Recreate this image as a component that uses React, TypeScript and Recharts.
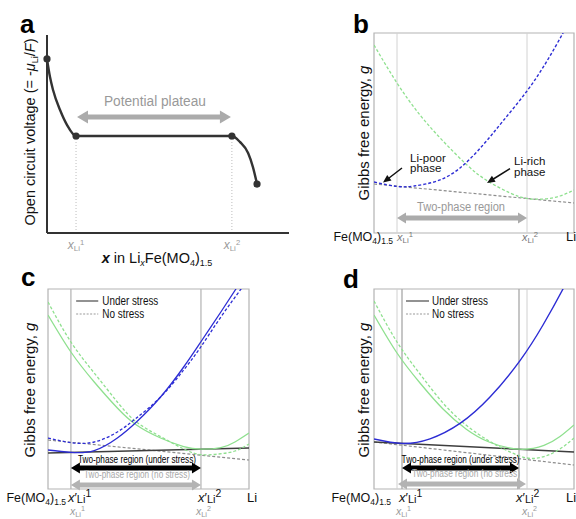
import React from 'react';
import { LineChart, Line, XAxis, YAxis, ReferenceLine, ReferenceArea, ReferenceDot } from 'recharts';

const FONT = '"Liberation Sans", Arial, Helvetica, sans-serif';

type P = { x: number; y: number; dot?: boolean };

// ---------------- panel a : open circuit voltage ----------------
const A_OCV: P[] = [
  { x: 0, y: 0.879, dot: true },
  { x: 0.012, y: 0.79 },
  { x: 0.025, y: 0.722 },
  { x: 0.054, y: 0.621 },
  { x: 0.083, y: 0.545 },
  { x: 0.12, y: 0.49, dot: true },
  { x: 0.764, y: 0.49, dot: true },
  { x: 0.797, y: 0.46 },
  { x: 0.831, y: 0.404 },
  { x: 0.851, y: 0.333 },
  { x: 0.868, y: 0.247, dot: true },
];
const A_TICKS = [0.12, 0.764];

// ---------------- panel b : free energy, single case ----------------
const B_TICKS = [0, 0.115, 0.765, 1];
const B_LI_POOR: P[] = [
  { x: 0, y: 0.255 }, { x: 0.115, y: 0.233 }, { x: 0.2, y: 0.235 }, { x: 0.315, y: 0.26 },
  { x: 0.43, y: 0.325 }, { x: 0.545, y: 0.44 }, { x: 0.645, y: 0.56 }, { x: 0.765, y: 0.71 },
  { x: 0.865, y: 0.86 }, { x: 0.945, y: 1.0 }, { x: 1.0, y: 1.1 },
];
const B_LI_RICH: P[] = [
  { x: 0, y: 0.94 }, { x: 0.115, y: 0.75 }, { x: 0.23, y: 0.59 }, { x: 0.345, y: 0.46 },
  { x: 0.465, y: 0.34 }, { x: 0.565, y: 0.262 }, { x: 0.68, y: 0.2 }, { x: 0.765, y: 0.173 },
  { x: 0.85, y: 0.17 }, { x: 0.93, y: 0.185 }, { x: 1.0, y: 0.215 },
];
const B_TANGENT: P[] = [{ x: 0, y: 0.245 }, { x: 1, y: 0.15 }];

// ---------------- panel c : stress shifts both boundaries ----------------
const C_TICKS = [0, 0.114, 0.761, 1];
const C_POOR_STRESS: P[] = [
  { x: 0, y: 0.195 }, { x: 0.114, y: 0.183 }, { x: 0.23, y: 0.192 }, { x: 0.345, y: 0.255 },
  { x: 0.44, y: 0.335 }, { x: 0.56, y: 0.46 }, { x: 0.675, y: 0.61 }, { x: 0.76, y: 0.735 },
  { x: 0.86, y: 0.885 }, { x: 0.935, y: 1.0 }, { x: 1.0, y: 1.1 },
];
const C_POOR_FREE: P[] = [
  { x: 0, y: 0.255 }, { x: 0.114, y: 0.232 }, { x: 0.23, y: 0.235 }, { x: 0.345, y: 0.285 },
  { x: 0.44, y: 0.355 }, { x: 0.56, y: 0.46 }, { x: 0.675, y: 0.595 }, { x: 0.76, y: 0.71 },
  { x: 0.86, y: 0.86 }, { x: 0.96, y: 1.0 }, { x: 1.0, y: 1.06 },
];
const C_RICH_STRESS: P[] = [
  { x: 0, y: 0.87 }, { x: 0.114, y: 0.685 }, { x: 0.23, y: 0.535 }, { x: 0.345, y: 0.405 },
  { x: 0.44, y: 0.32 }, { x: 0.56, y: 0.255 }, { x: 0.675, y: 0.212 }, { x: 0.761, y: 0.199 },
  { x: 0.86, y: 0.207 }, { x: 0.93, y: 0.235 }, { x: 1.0, y: 0.28 },
];
const C_RICH_FREE: P[] = [
  { x: 0, y: 0.935 }, { x: 0.114, y: 0.735 }, { x: 0.23, y: 0.58 }, { x: 0.345, y: 0.435 },
  { x: 0.44, y: 0.335 }, { x: 0.56, y: 0.262 }, { x: 0.675, y: 0.2 }, { x: 0.761, y: 0.172 },
  { x: 0.85, y: 0.175 }, { x: 0.93, y: 0.19 }, { x: 1.0, y: 0.225 },
];
const C_TAN_STRESS: P[] = [{ x: 0, y: 0.18 }, { x: 1, y: 0.205 }];
const C_TAN_FREE: P[] = [{ x: 0, y: 0.245 }, { x: 1, y: 0.145 }];

// ---------------- panel d : stress shifts only the Li-rich phase ----------------
const D_TICKS = [0, 0.115, 0.14, 0.725, 0.765, 1];
const D_POOR: P[] = [
  { x: 0, y: 0.25 }, { x: 0.14, y: 0.228 }, { x: 0.28, y: 0.251 }, { x: 0.43, y: 0.328 },
  { x: 0.58, y: 0.46 }, { x: 0.73, y: 0.642 }, { x: 0.845, y: 0.82 }, { x: 0.945, y: 1.0 },
  { x: 1.0, y: 1.11 },
];
const D_RICH_STRESS: P[] = [
  { x: 0, y: 0.87 }, { x: 0.115, y: 0.68 }, { x: 0.23, y: 0.53 }, { x: 0.345, y: 0.4 },
  { x: 0.46, y: 0.3 }, { x: 0.575, y: 0.235 }, { x: 0.725, y: 0.199 }, { x: 0.85, y: 0.218 },
  { x: 0.93, y: 0.262 }, { x: 1.0, y: 0.32 },
];
const D_RICH_FREE: P[] = [
  { x: 0, y: 0.94 }, { x: 0.115, y: 0.735 }, { x: 0.23, y: 0.575 }, { x: 0.345, y: 0.43 },
  { x: 0.46, y: 0.32 }, { x: 0.575, y: 0.24 }, { x: 0.67, y: 0.19 }, { x: 0.765, y: 0.155 },
  { x: 0.85, y: 0.162 }, { x: 0.93, y: 0.2 }, { x: 1.0, y: 0.255 },
];
const D_TAN_STRESS: P[] = [{ x: 0, y: 0.235 }, { x: 1, y: 0.185 }];
const D_TAN_FREE: P[] = [{ x: 0, y: 0.235 }, { x: 1, y: 0.12 }];

const BLUE = '#2c2cd4';
const GREEN = '#8fe08f';
const TAN_S = '#3d3d3d';
const TAN_N = '#8c8c8c';
const FRAME = '#b3b3b3';

function arrowShape(color: string, shaft: number, headW: number, headL: number, both: boolean) {
  return (p: any) => {
    const { x1, y1, x2, y2 } = p;
    const dx = x2 - x1, dy = y2 - y1;
    const len = Math.hypot(dx, dy) || 1;
    const ux = dx / len, uy = dy / len, nx = -uy, ny = ux;
    const pt = (bx: number, by: number, k: number) => `${bx + nx * k},${by + ny * k}`;
    const b2x = x2 - ux * headL, b2y = y2 - uy * headL;
    let pts: string[];
    if (both) {
      const b1x = x1 + ux * headL, b1y = y1 + uy * headL;
      pts = [`${x1},${y1}`, pt(b1x, b1y, headW / 2), pt(b1x, b1y, shaft / 2), pt(b2x, b2y, shaft / 2),
        pt(b2x, b2y, headW / 2), `${x2},${y2}`, pt(b2x, b2y, -headW / 2), pt(b2x, b2y, -shaft / 2),
        pt(b1x, b1y, -shaft / 2), pt(b1x, b1y, -headW / 2)];
    } else {
      pts = [pt(x1, y1, shaft / 2), pt(b2x, b2y, shaft / 2), pt(b2x, b2y, headW / 2), `${x2},${y2}`,
        pt(b2x, b2y, -headW / 2), pt(b2x, b2y, -shaft / 2), pt(x1, y1, -shaft / 2)];
    }
    return <polygon points={pts.join(' ')} fill={color} />;
  };
}

function textShape(lines: string[], opts: { size: number; color: string; anchor?: string; len?: number; lh?: number }) {
  return (p: any) => (
    <text x={p.cx} y={p.cy} fontSize={opts.size} fill={opts.color} fontFamily={FONT}
      textAnchor={opts.anchor || 'start'}
      textLength={opts.len} lengthAdjust={opts.len ? 'spacingAndGlyphs' : undefined}>
      {lines.length === 1 ? lines[0] : lines.map((t, i) => (
        <tspan key={i} x={p.cx} dy={i === 0 ? 0 : opts.lh || 11}>{t}</tspan>
      ))}
    </text>
  );
}

const FeLabel = ({ x, y }: { x: number; y: number }) => (
  <text x={x} y={y} textAnchor="end" fontSize={12.5} fill="#111" fontFamily={FONT}>
    Fe(MO<tspan fontSize={8.5} dy={3}>4</tspan><tspan dy={-3}>)</tspan><tspan fontSize={8.5} dy={3}>1.5</tspan>
  </text>
);

const XLabel = ({ x, y, prime, sup, size, sub, color, anchor }: any) => (
  <text x={x} y={y} fontSize={size} fill={color} fontFamily={FONT} textAnchor={anchor || 'start'}>
    <tspan fontStyle="italic">x</tspan>
    {prime ? <tspan>′</tspan> : null}
    <tspan fontSize={sub} dy={prime ? 1 : 2}>Li</tspan>
    <tspan fontSize={sub * 0.95} dy={-6}>{sup}</tspan>
  </text>
);

const LiLabel = ({ x, y }: { x: number; y: number }) => (
  <text x={x} y={y} fontSize={13} fill="#111" fontFamily={FONT}>Li</text>
);

// ---------------- tick renderers ----------------
const aTick = (p: any) => {
  const i = A_TICKS.indexOf(p.payload.value);
  return <XLabel x={p.x} y={p.y + 16} sup={String(i + 1)} size={12} sub={8} color="#9a9a9a" anchor="middle" />;
};

const bTick = (p: any) => {
  const v = p.payload.value;
  if (v === 0) return <FeLabel x={p.x + 19} y={p.y + 8} />;
  if (v === 1) return <LiLabel x={p.x - 8} y={p.y + 8} />;
  const i = B_TICKS.indexOf(v);
  return <XLabel x={p.x + (i === 1 ? 0 : -5)} y={p.y + 8} sup={String(i)} size={11} sub={8} color="#777" />;
};

const ROW1 = 13;
const ROW2 = 26;

const cTick = (p: any) => {
  const v = p.payload.value;
  if (v === 0) return <FeLabel x={p.x + 18} y={p.y + ROW1} />;
  if (v === 1) return <LiLabel x={p.x - 2} y={p.y + ROW1} />;
  const i = C_TICKS.indexOf(v);
  const s = String(i);
  return (
    <g>
      <XLabel x={p.x - 3} y={p.y + ROW1} prime sup={s} size={13} sub={11} color="#111" />
      <XLabel x={p.x + (i === 1 ? -1 : -5)} y={p.y + ROW2} sup={s} size={10.5} sub={7.5} color="#9a9a9a" />
    </g>
  );
};

const D_ROWS = [0, 2, 1, 1, 2, 0];
const D_SUPS = ['', '1', '1', '2', '2', ''];
const dTick = (p: any) => {
  const v = p.payload.value;
  if (v === 0) return <FeLabel x={p.x + 17} y={p.y + ROW1} />;
  if (v === 1) return <LiLabel x={p.x - 8} y={p.y + ROW1} />;
  const i = D_TICKS.indexOf(v);
  const s = D_SUPS[i];
  if (D_ROWS[i] === 1) {
    return <XLabel x={p.x - 3} y={p.y + ROW1} prime sup={s} size={13} sub={11} color="#111" />;
  }
  return <XLabel x={p.x + (s === '1' ? -1 : -5)} y={p.y + ROW2} sup={s} size={10.5} sub={7.5} color="#9a9a9a" />;
};

const dotA = (p: any) =>
  p.payload.dot ? <circle key={`d${p.index}`} cx={p.cx} cy={p.cy} r={3.6} fill="#333" /> : <g key={`d${p.index}`} />;

function PanelA() {
  return (
    <LineChart width={300} height={262} margin={{ top: 35, right: 11, bottom: 0, left: 47 }}>
      <XAxis type="number" dataKey="x" domain={[0, 1]} ticks={A_TICKS} interval={0} tick={aTick}
        tickLine={false} axisLine={false} tickSize={0} tickMargin={0} height={29} />
      <YAxis type="number" domain={[0, 1]} hide />
      <ReferenceLine segment={[{ x: 0.12, y: 0 }, { x: 0.12, y: 0.49 }]} stroke="#bdbdbd" strokeDasharray="1 2" />
      <ReferenceLine segment={[{ x: 0.764, y: 0 }, { x: 0.764, y: 0.49 }]} stroke="#bdbdbd" strokeDasharray="1 2" />
      <ReferenceLine x={0} stroke="#333" strokeWidth={2} />
      <ReferenceLine y={0} stroke="#333" strokeWidth={2} />
      <ReferenceLine segment={[{ x: 0.124, y: 0.586 }, { x: 0.76, y: 0.586 }]}
        shape={arrowShape('#ababab', 5, 13, 11, true)} />
      <ReferenceDot x={0.446} y={0.64} r={0}
        shape={textShape(['Potential plateau'], { size: 14, color: '#999', anchor: 'middle', len: 102 })} />
      <Line data={A_OCV} dataKey="y" type="monotone" stroke="#333" strokeWidth={2.4}
        dot={dotA} activeDot={false} isAnimationActive={false} />
    </LineChart>
  );
}

function PanelB() {
  return (
    <LineChart width={286} height={263} margin={{ top: 33, right: 2, bottom: 0, left: 84 }}>
      <XAxis type="number" dataKey="x" domain={[0, 1]} ticks={B_TICKS} interval={0} tick={bTick}
        tickLine={false} axisLine={false} tickSize={0} tickMargin={0} height={30} allowDataOverflow />
      <YAxis type="number" domain={[0, 1]} hide allowDataOverflow />
      <ReferenceArea x1={0} x2={1} y1={0} y2={1} fill="none" stroke={FRAME} strokeWidth={1.2} />
      <ReferenceLine x={0.115} stroke="#d2d2d2" />
      <ReferenceLine x={0.765} stroke="#d2d2d2" />
      <Line data={B_TANGENT} dataKey="y" type="linear" stroke={TAN_N} strokeWidth={1.2}
        strokeDasharray="3 2" dot={false} activeDot={false} isAnimationActive={false} />
      <Line data={B_LI_RICH} dataKey="y" type="natural" stroke={GREEN} strokeWidth={1.3}
        strokeDasharray="3 2" dot={false} activeDot={false} isAnimationActive={false} />
      <Line data={B_LI_POOR} dataKey="y" type="natural" stroke={BLUE} strokeWidth={1.4}
        strokeDasharray="3 2" dot={false} activeDot={false} isAnimationActive={false} />
      <ReferenceLine segment={[{ x: 0.14, y: 0.325 }, { x: 0.045, y: 0.252 }]}
        shape={arrowShape('#111', 1.5, 7, 8, false)} />
      <ReferenceLine segment={[{ x: 0.68, y: 0.322 }, { x: 0.565, y: 0.25 }]}
        shape={arrowShape('#111', 1.5, 7, 8, false)} />
      <ReferenceDot x={0.18} y={0.357} r={0}
        shape={textShape(['Li-poor', 'phase'], { size: 11.5, color: '#111', lh: 10.5 })} />
      <ReferenceDot x={0.7} y={0.34} r={0}
        shape={textShape(['Li-rich', 'phase'], { size: 11.5, color: '#111', lh: 10.5 })} />
      <ReferenceLine segment={[{ x: 0.115, y: 0.075 }, { x: 0.765, y: 0.075 }]}
        shape={arrowShape('#ababab', 5, 11, 9, true)} />
      <ReferenceDot x={0.435} y={0.11} r={0}
        shape={textShape(['Two-phase region'], { size: 12.5, color: '#999', anchor: 'middle', len: 88 })} />
    </LineChart>
  );
}

function PanelC() {
  return (
    <LineChart width={260} height={249} margin={{ top: 19, right: 11, bottom: 0, left: 48 }}>
      <XAxis type="number" dataKey="x" domain={[0, 1]} ticks={C_TICKS} interval={0} tick={cTick}
        tickLine={false} axisLine={false} tickSize={0} tickMargin={0} height={30} allowDataOverflow />
      <YAxis type="number" domain={[0, 1]} hide allowDataOverflow />
      <ReferenceArea x1={0} x2={1} y1={0} y2={1} fill="none" stroke={FRAME} strokeWidth={1.2} />
      <ReferenceLine x={0.114} stroke="#b8b8b8" strokeWidth={1.3} />
      <ReferenceLine x={0.761} stroke="#b8b8b8" strokeWidth={1.3} />
      <Line data={C_TAN_FREE} dataKey="y" type="linear" stroke={TAN_N} strokeWidth={1.2}
        strokeDasharray="3 2" dot={false} activeDot={false} isAnimationActive={false} />
      <Line data={C_TAN_STRESS} dataKey="y" type="linear" stroke={TAN_S} strokeWidth={1.6}
        dot={false} activeDot={false} isAnimationActive={false} />
      <Line data={C_RICH_FREE} dataKey="y" type="natural" stroke={GREEN} strokeWidth={1.3}
        strokeDasharray="3 2" dot={false} activeDot={false} isAnimationActive={false} />
      <Line data={C_RICH_STRESS} dataKey="y" type="natural" stroke={GREEN} strokeWidth={1.3}
        dot={false} activeDot={false} isAnimationActive={false} />
      <Line data={C_POOR_FREE} dataKey="y" type="natural" stroke={BLUE} strokeWidth={1.3}
        strokeDasharray="3 2" dot={false} activeDot={false} isAnimationActive={false} />
      <Line data={C_POOR_STRESS} dataKey="y" type="natural" stroke={BLUE} strokeWidth={1.3}
        dot={false} activeDot={false} isAnimationActive={false} />
      <ReferenceLine segment={[{ x: 0.14, y: 0.94 }, { x: 0.25, y: 0.94 }]} stroke="#6e6e6e" strokeWidth={1.5} />
      <ReferenceLine segment={[{ x: 0.14, y: 0.875 }, { x: 0.25, y: 0.875 }]} stroke="#9a9a9a" strokeWidth={1.1} strokeDasharray="2 1.5" />
      <ReferenceDot x={0.27} y={0.922} r={0}
        shape={textShape(['Under stress'], { size: 12.5, color: '#111', len: 56 })} />
      <ReferenceDot x={0.27} y={0.857} r={0}
        shape={textShape(['No stress'], { size: 12.5, color: '#111', len: 42 })} />
      <ReferenceLine segment={[{ x: 0.114, y: 0.105 }, { x: 0.761, y: 0.105 }]}
        shape={arrowShape('#000', 5, 11, 9, true)} />
      <ReferenceDot x={0.443} y={0.13} r={0}
        shape={textShape(['Two-phase region (under stress)'], { size: 10, color: '#000', anchor: 'middle', len: 118 })} />
      <ReferenceLine segment={[{ x: 0.114, y: 0.02 }, { x: 0.761, y: 0.02 }]}
        shape={arrowShape('#b3b3b3', 5, 11, 9, true)} />
      <ReferenceDot x={0.443} y={0.055} r={0}
        shape={textShape(['Two-phase region (no stress)'], { size: 10, color: '#a8a8a8', anchor: 'middle', len: 106 })} />
    </LineChart>
  );
}

function PanelD() {
  return (
    <LineChart width={286} height={249} margin={{ top: 19, right: 2, bottom: 0, left: 84 }}>
      <XAxis type="number" dataKey="x" domain={[0, 1]} ticks={D_TICKS} interval={0} tick={dTick}
        tickLine={false} axisLine={false} tickSize={0} tickMargin={0} height={30} allowDataOverflow />
      <YAxis type="number" domain={[0, 1]} hide allowDataOverflow />
      <ReferenceArea x1={0} x2={1} y1={0} y2={1} fill="none" stroke={FRAME} strokeWidth={1.2} />
      <ReferenceLine x={0.115} stroke="#d0d0d0" />
      <ReferenceLine x={0.765} stroke="#d0d0d0" />
      <ReferenceLine x={0.14} stroke="#a8a8a8" strokeWidth={1.3} />
      <ReferenceLine x={0.725} stroke="#a8a8a8" strokeWidth={1.3} />
      <Line data={D_TAN_FREE} dataKey="y" type="linear" stroke={TAN_N} strokeWidth={1.2}
        strokeDasharray="3 2" dot={false} activeDot={false} isAnimationActive={false} />
      <Line data={D_TAN_STRESS} dataKey="y" type="linear" stroke={TAN_S} strokeWidth={1.6}
        dot={false} activeDot={false} isAnimationActive={false} />
      <Line data={D_RICH_FREE} dataKey="y" type="natural" stroke={GREEN} strokeWidth={1.3}
        strokeDasharray="3 2" dot={false} activeDot={false} isAnimationActive={false} />
      <Line data={D_RICH_STRESS} dataKey="y" type="natural" stroke={GREEN} strokeWidth={1.3}
        dot={false} activeDot={false} isAnimationActive={false} />
      <Line data={D_POOR} dataKey="y" type="natural" stroke={BLUE} strokeWidth={1.4}
        dot={false} activeDot={false} isAnimationActive={false} />
      <ReferenceLine segment={[{ x: 0.16, y: 0.94 }, { x: 0.275, y: 0.94 }]} stroke="#6e6e6e" strokeWidth={1.5} />
      <ReferenceLine segment={[{ x: 0.16, y: 0.875 }, { x: 0.275, y: 0.875 }]} stroke="#9a9a9a" strokeWidth={1.1} strokeDasharray="2 1.5" />
      <ReferenceDot x={0.29} y={0.922} r={0}
        shape={textShape(['Under stress'], { size: 12.5, color: '#111', len: 56 })} />
      <ReferenceDot x={0.29} y={0.857} r={0}
        shape={textShape(['No stress'], { size: 12.5, color: '#111', len: 42 })} />
      <ReferenceLine segment={[{ x: 0.14, y: 0.105 }, { x: 0.725, y: 0.105 }]}
        shape={arrowShape('#000', 5, 11, 9, true)} />
      <ReferenceDot x={0.433} y={0.13} r={0}
        shape={textShape(['Two-phase region (under stress)'], { size: 10, color: '#000', anchor: 'middle', len: 118 })} />
      <ReferenceLine segment={[{ x: 0.12, y: 0.025 }, { x: 0.76, y: 0.025 }]}
        shape={arrowShape('#b3b3b3', 5, 11, 9, true)} />
      <ReferenceDot x={0.46} y={0.058} r={0}
        shape={textShape(['Two-phase region (no stress)'], { size: 10, color: '#a8a8a8', anchor: 'middle', len: 108 })} />
    </LineChart>
  );
}

const gibbs = (x: number, y: number) => (
  <text transform={`translate(${x},${y}) rotate(-90)`} textAnchor="middle" fontSize={15} fill="#111" fontFamily={FONT}>
    Gibbs free energy, <tspan fontStyle="italic">g</tspan>
  </text>
);

export default function App() {
  return (
    <div style={{ position: 'absolute', left: 0, top: 0, width: 576, height: 519, background: '#fff', overflow: 'hidden', fontFamily: FONT }}>
      <div style={{ position: 'absolute', left: 0, top: 0 }}><PanelA /></div>
      <div style={{ position: 'absolute', left: 290, top: 0 }}><PanelB /></div>
      <div style={{ position: 'absolute', left: 0, top: 270 }}><PanelC /></div>
      <div style={{ position: 'absolute', left: 290, top: 270 }}><PanelD /></div>
      <svg width={576} height={519} style={{ position: 'absolute', left: 0, top: 0, pointerEvents: 'none' }}>
        <g fontFamily={FONT} fontWeight="bold" fontSize={26} fill="#000">
          <text x={20} y={33}>a</text>
          <text x={353} y={33}>b</text>
          <text x={21} y={286}>c</text>
          <text x={343} y={288}>d</text>
        </g>
        <text transform="translate(35,132) rotate(-90)" textAnchor="middle" fontSize={14.5} fill="#111" fontFamily={FONT}>
          Open circuit voltage (= -<tspan fontStyle="italic">μ</tspan><tspan fontSize={9} dy={3}>Li</tspan><tspan dy={-3}>/</tspan><tspan fontStyle="italic">F</tspan>)
        </text>
        <text x={157} y={263} textAnchor="middle" fontSize={14.5} fill="#111" fontFamily={FONT}>
          <tspan fontWeight="bold" fontStyle="italic">x</tspan> in Li<tspan fontSize={9} dy={3} fontStyle="italic">x</tspan><tspan dy={-3}>Fe(MO</tspan><tspan fontSize={9} dy={3}>4</tspan><tspan dy={-3}>)</tspan><tspan fontSize={9} dy={3}>1.5</tspan>
        </text>
        {gibbs(369, 133)}
        {gibbs(35, 390)}
        {gibbs(369, 390)}
      </svg>
    </div>
  );
}
